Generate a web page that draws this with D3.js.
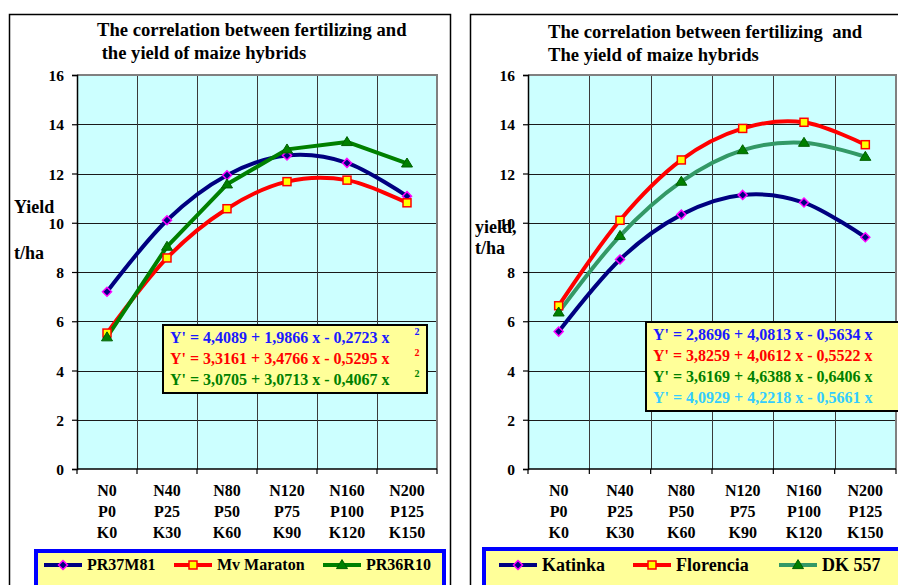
<!DOCTYPE html>
<html>
<head>
<meta charset="utf-8">
<script src="https://cdn.jsdelivr.net/npm/d3@7"></script>
<style>
  body { margin: 0; background: #fff; }
  svg { display: block; font-family: "Liberation Serif", "Times New Roman", serif; font-weight: bold; }
</style>
</head>
<body>
<svg id="chart" width="898" height="585"></svg>
<script>
// Fertilizer levels (three label rows under each category)
const nLevels = ["N0", "N40", "N80", "N120", "N160", "N200"];
const pLevels = ["P0", "P25", "P50", "P75", "P100", "P125"];
const kLevels = ["K0", "K30", "K60", "K90", "K120", "K150"];
const yTicks = [0, 2, 4, 6, 8, 10, 12, 14, 16];

// Yield, t/ha — first group of hybrids
const pr37m81   = [7.2, 10.1, 11.93, 12.73, 12.43, 11.08];
const mvMaraton = [5.52, 8.57, 10.57, 11.67, 11.73, 10.81];
const pr36r10   = [5.35, 9.03, 11.56, 12.98, 13.28, 12.41];

// Yield, t/ha — second group of hybrids
const katinka   = [5.58, 8.51, 10.33, 11.13, 10.82, 9.41];
const florencia = [6.63, 10.1, 12.55, 13.83, 14.08, 13.17];
const dk557     = [6.36, 9.47, 11.67, 12.95, 13.25, 12.68];

// Regression equations shown in the yellow boxes
const leftEquations = [
  "Y' = 4,4089 + 1,9866 x - 0,2723 x",
  "Y' = 3,3161 + 3,4766 x - 0,5295 x",
  "Y' = 3,0705 + 3,0713 x - 0,4067 x"
];
const leftEquationColors = ["#1a1aff", "#ff0000", "#008000"];
const rightEquations = [
  "Y' = 2,8696 + 4,0813 x - 0,5634 x",
  "Y' = 3,8259 + 4,0612 x - 0,5522 x",
  "Y' = 3,6169 + 4,6388 x - 0,6406 x",
  "Y' = 4,0929 + 4,2218 x - 0,5661 x"
];
const rightEquationColors = ["#1a1aff", "#ff0000", "#008000", "#33ccff"];

const categories = nLevels.map((n, i) => i);
const svg = d3.select("#chart");

// Marker shapes
function marker(g, type, x, y) {
  if (type === "diamond") {
    const r = 4.5;
    g.append("path")
      .attr("d", `M${x},${y - r}L${x + r},${y}L${x},${y + r}L${x - r},${y}Z`)
      .attr("fill", "#000080").attr("stroke", "#ff00ff").attr("stroke-width", 1.5);
  } else if (type === "square") {
    const r = 4;
    g.append("rect").attr("x", x - r).attr("y", y - r).attr("width", 2 * r).attr("height", 2 * r)
      .attr("fill", "#ffff00").attr("stroke", "#ff0000").attr("stroke-width", 1.5);
  } else {
    const w = 5.5, h = 9;
    g.append("path")
      .attr("d", `M${x},${y - h * 0.6}L${x + w},${y + h * 0.4}L${x - w},${y + h * 0.4}Z`)
      .attr("fill", "#008000").attr("stroke", "#006000").attr("stroke-width", 1);
  }
}

function drawChart(cfg) {
  const g = svg.append("g");

  // outer frame
  g.append("rect")
    .attr("x", cfg.frame[0] + 0.5).attr("y", 14.5)
    .attr("width", cfg.frame[1] - cfg.frame[0]).attr("height", 620)
    .attr("fill", "#fff").attr("stroke", "#000").attr("stroke-width", 1.5);

  // title
  cfg.title.forEach((t, i) => {
    g.append("text").attr("x", cfg.titleX).attr("y", cfg.titleY[i])
      .attr("font-size", 18.6).attr("fill", "#000")
      .attr("xml:space", "preserve").style("white-space", "pre").text(t);
  });

  const x = d3.scaleBand().domain(categories).range([cfg.plot[0], cfg.plot[1]]).padding(0);
  const y = d3.scaleLinear().domain([0, 16]).range([469, 75]);
  const cx = i => x(i) + x.bandwidth() / 2;

  // plot area
  g.append("rect")
    .attr("x", cfg.plot[0]).attr("y", y(16))
    .attr("width", cfg.plot[1] - cfg.plot[0]).attr("height", y(0) - y(16))
    .attr("fill", "#ccffff");

  // horizontal gridlines
  g.append("g").selectAll("line").data(yTicks.filter(v => v > 0 && v < 16)).join("line")
    .attr("x1", cfg.plot[0]).attr("x2", cfg.plot[1])
    .attr("y1", d => Math.round(y(d)) + 0.5).attr("y2", d => Math.round(y(d)) + 0.5)
    .attr("stroke", "#1a1a1a").attr("stroke-width", 1);

  // vertical gridlines at category boundaries
  g.append("g").selectAll("line").data(categories.slice(1)).join("line")
    .attr("x1", d => Math.round(x(d)) + 0.5).attr("x2", d => Math.round(x(d)) + 0.5)
    .attr("y1", y(16)).attr("y2", y(0))
    .attr("stroke", "#3a3a3a").attr("stroke-width", 1);

  // plot border (gray top / right)
  g.append("path")
    .attr("d", `M${cfg.plot[0]},${y(16)}H${cfg.plot[1]}V${y(0)}`)
    .attr("fill", "none").attr("stroke", "#808080").attr("stroke-width", 2);

  // y axis
  const yAxis = d3.axisLeft(y).tickValues(yTicks).tickSize(5).tickPadding(8);
  const ya = g.append("g").attr("transform", `translate(${cfg.plot[0]},0)`).call(yAxis);
  ya.select(".domain").attr("stroke", "#000").attr("stroke-width", 1.5);
  ya.selectAll(".tick line").attr("stroke", "#000").attr("stroke-width", 1.2);
  ya.selectAll(".tick text").attr("font-size", 15.5).attr("font-family", "Liberation Serif")
    .attr("font-weight", "bold").attr("fill", "#000").attr("dy", "0.36em");

  // x axis: ticks at category boundaries, three-row labels at band centres
  const xa = g.append("g");
  xa.append("line").attr("x1", cfg.plot[0]).attr("x2", cfg.plot[1])
    .attr("y1", y(0)).attr("y2", y(0)).attr("stroke", "#000").attr("stroke-width", 1.5);
  xa.selectAll(".xt").data(categories.concat([categories.length])).join("line")
    .attr("x1", d => d < categories.length ? x(d) : cfg.plot[1])
    .attr("x2", d => d < categories.length ? x(d) : cfg.plot[1])
    .attr("y1", y(0)).attr("y2", y(0) + 5).attr("stroke", "#000").attr("stroke-width", 1.2);
  [nLevels, pLevels, kLevels].forEach((row, r) => {
    xa.selectAll(".xl" + r).data(row).join("text")
      .attr("x", (d, i) => cx(i))
      .attr("y", 496 + r * 21)
      .attr("text-anchor", "middle").attr("font-size", 16).attr("fill", "#000")
      .text(d => d);
  });

  // y axis title
  cfg.yTitle.forEach((t, i) => {
    g.append("text").attr("x", cfg.yTitleX).attr("y", cfg.yTitleY[i])
      .attr("font-size", 18).attr("fill", "#000").text(t);
  });

  // series
  cfg.series.forEach(s => {
    const line = d3.line().x((d, i) => cx(i)).y(d => y(d))
      .curve(s.smooth ? d3.curveCardinal.tension(0) : d3.curveLinear);
    g.append("path").datum(s.values).attr("d", line)
      .attr("fill", "none").attr("stroke", s.color).attr("stroke-width", 4)
      .attr("stroke-linejoin", "round");
  });
  cfg.series.forEach(s => {
    s.values.forEach((v, i) => marker(g, s.marker, cx(i), y(v)));
  });

  // equation box
  const eb = cfg.eqBox;
  g.append("rect").attr("x", eb.x).attr("y", eb.y).attr("width", eb.w).attr("height", eb.h)
    .attr("fill", "#ffff99").attr("stroke", "#000").attr("stroke-width", 2);
  cfg.equations.forEach((t, i) => {
    g.append("text").attr("x", eb.x + 7).attr("y", eb.y + eb.first + i * eb.step)
      .attr("font-size", 16).attr("fill", cfg.eqColors[i]).text(t);
    if (eb.sup) {
      g.append("text").attr("x", eb.x + eb.w - 10).attr("y", eb.y + eb.first - 8 + i * eb.step)
        .attr("text-anchor", "middle").attr("font-size", 10).attr("fill", cfg.eqColors[i]).text("2");
    }
  });

  // legend
  const lg = cfg.legend;
  g.append("rect").attr("x", lg.x + 2).attr("y", lg.y + 2).attr("width", lg.w).attr("height", 80)
    .attr("fill", "#ffff99").attr("stroke", "#0000ff").attr("stroke-width", 4);
  cfg.series.forEach((s, i) => {
    const lx = lg.items[i];
    g.append("line").attr("x1", lx).attr("x2", lx + 38).attr("y1", 565).attr("y2", 565)
      .attr("stroke", s.color).attr("stroke-width", 4);
    marker(g, s.marker, lx + 19, 565);
    g.append("text").attr("x", lx + 43).attr("y", 565 + lg.fs * 0.34)
      .attr("font-size", lg.fs).attr("fill", "#000").text(s.name);
  });
}

drawChart({
  frame: [9, 450],
  title: ["The correlation between fertilizing and", " the yield of maize hybrids"],
  titleX: 97, titleY: [36, 59],
  plot: [77, 437],
  yTitle: ["Yield", "t/ha"], yTitleX: 14, yTitleY: [213, 259],
  series: [
    { name: "PR37M81", values: pr37m81, color: "#000080", marker: "diamond", smooth: true },
    { name: "Mv Maraton", values: mvMaraton, color: "#ff0000", marker: "square", smooth: true },
    { name: "PR36R10", values: pr36r10, color: "#008000", marker: "triangle", smooth: false }
  ],
  equations: leftEquations, eqColors: leftEquationColors,
  eqBox: { x: 163, y: 325, w: 264, h: 68, first: 18, step: 20.8, sup: true },
  legend: { x: 34, y: 549, w: 408, items: [44, 174, 323], fs: 16 }
});

drawChart({
  frame: [470, 930],
  title: ["The correlation between fertilizing  and", "The yield of maize hybrids"],
  titleX: 548, titleY: [38, 61],
  plot: [528, 896],
  yTitle: ["yield,", "t/ha"], yTitleX: 475, yTitleY: [233, 254],
  series: [
    { name: "Katinka", values: katinka, color: "#000080", marker: "diamond", smooth: true },
    { name: "Florencia", values: florencia, color: "#ff0000", marker: "square", smooth: true },
    { name: "DK 557", values: dk557, color: "#339966", marker: "triangle", smooth: true }
  ],
  equations: rightEquations, eqColors: rightEquationColors,
  eqBox: { x: 646, y: 322, w: 280, h: 89, first: 18, step: 21, sup: false },
  legend: { x: 482, y: 547, w: 440, items: [499, 633, 779], fs: 18 }
});
</script>
</body>
</html>
